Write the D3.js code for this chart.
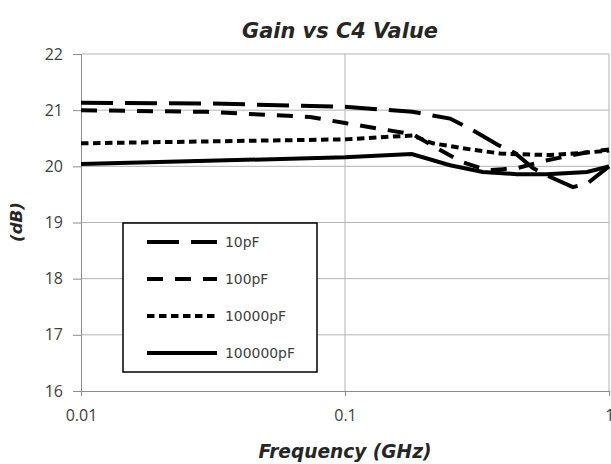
<!DOCTYPE html>
<html><head><meta charset="utf-8">
<script src="https://cdn.jsdelivr.net/npm/d3@7"></script>
<style>body{margin:0;background:#fff}svg{display:block}</style>
</head><body><svg id="c" width="611" height="464"></svg>
<script>
const seriesNames = ["10pF","100pF","10000pF","100000pF"];
const freq10 = [0.01,0.03,0.1,0.18,0.25,0.303,0.38,0.44,0.515,0.58,0.73,0.83,1.0];
const gain10 = [21.13,21.12,21.06,20.97,20.85,20.65,20.38,20.24,19.97,19.84,19.63,19.70,20.0];
const freq100 = [0.01,0.03,0.0737,0.1,0.181,0.223,0.28,0.345,0.397,0.45,0.572,0.73,0.848,1.0];
const gain100 = [21.0,20.97,20.88,20.77,20.57,20.32,20.07,19.93,19.95,19.97,20.1,20.2,20.26,20.3];
const freq10000 = [0.01,0.1,0.18,0.215,0.3,0.387,0.42,0.6,0.8,1.0];
const gain10000 = [20.41,20.48,20.55,20.41,20.3,20.23,20.22,20.2,20.24,20.28];
const freq100000 = [0.01,0.1,0.179,0.25,0.333,0.448,0.582,0.826,1.0];
const gain100000 = [20.04,20.16,20.22,20.02,19.9,19.86,19.86,19.9,20.0];
const yTicks = [16,17,18,19,20,21,22];
const xTicks = [0.01,0.1,1];
const dashes = ["32,12","16,12","7.5,4.5",null];

const svg = d3.select("#c");
const x = d3.scaleLog().domain([0.01,1]).range([81,609]);
const y = d3.scaleLinear().domain([16,22]).range([391,54]);
const series = [[freq10,gain10],[freq100,gain100],[freq10000,gain10000],[freq100000,gain100000]];
const tickFont = "'Open Sans', sans-serif";
const titleFont = "'DejaVu Sans', sans-serif";

function fit(sel, w){
  const n = sel.node(); const fs = parseFloat(sel.style("font-size"));
  const L = n.getComputedTextLength();
  sel.style("font-size", (fs*w/L).toFixed(2)+"px");
  return sel;
}

// gridlines
svg.append("g").selectAll("line").data(yTicks.filter(d=>d>16)).join("line")
  .attr("x1",81).attr("x2",609).attr("y1",d=>y(d)).attr("y2",d=>y(d))
  .attr("stroke","#b3b3b3").attr("stroke-width",1);
svg.append("g").selectAll("line").data(xTicks.filter(d=>d>0.01)).join("line")
  .attr("x1",d=>x(d)).attr("x2",d=>x(d)).attr("y1",54).attr("y2",391)
  .attr("stroke","#b3b3b3").attr("stroke-width",1);

// axes
const ya = svg.append("g").attr("transform","translate(81,0)")
  .call(d3.axisLeft(y).tickValues(yTicks).tickSize(8).tickPadding(10).tickFormat(d3.format("d")));
const xa = svg.append("g").attr("transform","translate(0,391)")
  .call(d3.axisBottom(x).tickValues(xTicks).tickSize(5).tickPadding(14).tickFormat(d=>String(d)));
[ya,xa].forEach(a=>{
  a.select(".domain").attr("stroke","#8c8c8c").attr("stroke-width",1);
  a.selectAll(".tick line").attr("stroke","#8c8c8c");
  a.selectAll("text").attr("fill","#404040").style("font-family",tickFont).style("font-size","16px");
});
xa.selectAll(".tick text").filter(d=>d===1).attr("text-anchor","end").attr("dx","5");

const line = d3.line().x(d=>x(d[0])).y(d=>y(d[1]));
series.forEach((s,i)=>{
  const pts = s[0].map((f,j)=>[f,s[1][j]]);
  svg.append("path").datum(pts).attr("d",line).attr("fill","none")
    .attr("stroke","#000").attr("stroke-width",4)
    .attr("stroke-dasharray",dashes[i]);
});

// legend
const lg = svg.append("g");
lg.append("rect").attr("x",123).attr("y",223).attr("width",194).attr("height",149)
  .attr("fill","#fff").attr("stroke","#000").attr("stroke-width",1.5);
const ly = d3.scalePoint().domain(seriesNames).range([242,353]);
let lt = [];
seriesNames.forEach((n,i)=>{
  lg.append("line").attr("x1",147).attr("x2",217).attr("y1",ly(n)).attr("y2",ly(n))
    .attr("stroke","#000").attr("stroke-width",4).attr("stroke-dasharray",dashes[i]);
  lt.push(lg.append("text").attr("x",225).attr("y",ly(n)).attr("dy","0.35em").text(n)
    .attr("fill","#404040").style("font-family",titleFont).style("font-size","13px"));
});
const t0 = lt[3]; fit(t0,70); const lfs = t0.style("font-size");
lt.forEach(t=>t.style("font-size",lfs));

fit(svg.append("text").attr("x",340).attr("y",38).attr("text-anchor","middle")
  .text("Gain vs C4 Value").attr("fill","#262626")
  .style("font-family",titleFont).style("font-size","19px").style("font-weight","bold").style("font-style","italic"),196);
fit(svg.append("text").attr("x",345).attr("y",458).attr("text-anchor","middle")
  .text("Frequency (GHz)").attr("fill","#262626")
  .style("font-family",titleFont).style("font-size","15px").style("font-weight","bold").style("font-style","italic"),173);
fit(svg.append("text").attr("transform","translate(22,222) rotate(-90)").attr("text-anchor","middle")
  .text("(dB)").attr("fill","#262626")
  .style("font-family",titleFont).style("font-size","15px").style("font-weight","bold").style("font-style","italic"),40);
</script></body></html>
